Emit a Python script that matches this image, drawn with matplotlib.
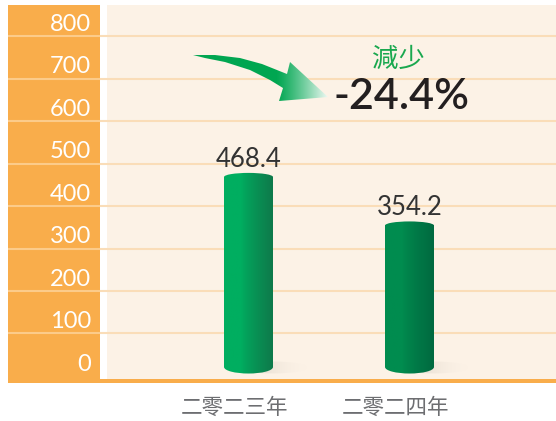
import numpy as np
import matplotlib.pyplot as plt
from matplotlib.patches import Ellipse, Polygon, Rectangle
from matplotlib.colors import to_rgb

years = ['二零二三年', '二零二四年']
values = [468.4, 354.2]
yticks = [0, 100, 200, 300, 400, 500, 600, 700, 800]
change_label = '減少'
change_value = '-24.4%'

ORANGE = '#F9AD4B'
CREAM = '#FCF2E6'
GRID = '#FADDB8'
GRID_ON_ORANGE = '#FCCB8A'
bar_colors = [('#00AE60', '#0E7A4B'), ('#008C4F', '#006A40')]

plt.rcParams['font.family'] = ['Lato', 'DejaVu Sans']

fig = plt.figure(figsize=(5.56, 4.21), dpi=100)
# axes spans pixel x 8..556, y 5..383
ax = fig.add_axes([8 / 556, (421 - 383) / 421, 548 / 556, 378 / 421])
ax.set_xlim(-1.494, 1.910)
ax.set_ylim(-16.5, 873)
ax.axis('off')


def px2data(px, py):
    return (px - 248.5) / 161, (376 - py) / 0.425


def hgrad(ax, x0, x1, y0, y1, c0, c1, clip, z, alpha=None, t=None):
    n = 64
    a = np.array(to_rgb(c0))
    b = np.array(to_rgb(c1))
    if t is None:
        t = np.linspace(0, 1, n)
    img = a + (b - a) * t[None, :, None]
    if alpha is not None:
        img = np.concatenate([img, alpha[None, :, None]], axis=2)
    im = ax.imshow(img, extent=(x0, x1, y0, y1), aspect='auto', zorder=z,
                   interpolation='bilinear')
    im.set_clip_path(clip)
    return im


# panels
ax.axvspan(-1.494, -0.922, color=ORANGE, lw=0, zorder=0)
ax.axvspan(-0.922, -0.879, color='white', lw=0, zorder=0)
ax.axvspan(-0.879, 1.910, color=CREAM, lw=0, zorder=0)
ax.axhspan(-16.5, -7, color=ORANGE, lw=0, zorder=6)

ax.hlines(yticks[1:], -1.494, -0.922, colors=GRID_ON_ORANGE, lw=1.5, zorder=1)
ax.hlines(yticks[1:], -0.922, 1.910, colors=GRID, lw=1.5, zorder=1)
for t in yticks:
    ax.annotate(str(t), (-0.978, t), xytext=(0, 1), textcoords='offset points',
                ha='right', va='bottom', color='white', fontsize=17)

# cylinder bars
x = np.arange(len(values))
w = 0.304
cap = 19
base = 21
bars = ax.bar(x, [v - base for v in values], bottom=base, width=w, alpha=0)
for i, bar in enumerate(bars):
    x0 = bar.get_x()
    x1 = x0 + w
    v = values[i]
    c0, c1 = bar_colors[i]
    body = Rectangle((x0, base), w, v - base, transform=ax.transData)
    bottom = Ellipse((x[i], base), w, cap * 1.6, transform=ax.transData)
    top = Ellipse((x[i], v), w, cap, transform=ax.transData)
    ramp = np.clip((np.linspace(0, 1, 64) - 0.35) / 0.65, 0, 1) ** 0.8
    for clip in (body, bottom, top):
        hgrad(ax, x0, x1, 0, v + cap, c0, c1, clip, 3, t=ramp)
    # soft shadow at the foot
    sx0, sx1 = x[i], x[i] + 60 / 161
    sh = Ellipse((x[i] + 25 / 161, 20), 70 / 161, 28, transform=ax.transData)
    alpha = np.linspace(0.55, 0.0, 64) ** 1.3
    hgrad(ax, sx0, sx1, 0, 40, '#BEB4A8', '#E8E0D6', sh, 2, alpha=alpha)
    ax.annotate(f'{v:.1f}', (x[i], v + cap / 2), xytext=(0, 1),
                textcoords='offset points', ha='center', va='bottom',
                color='#333333', fontsize=18.5)

# category labels
for i, lab in enumerate(years):
    ax.text(x[i] - 0.09, -16.5 - 33, lab, ha='center', va='top',
            fontsize=15.5, color='#6D6E71',
            family=['Noto Sans CJK TC', 'DejaVu Sans'], fontweight='light')

# arrow
pts = [(193, 55), (215, 55), (240, 58), (262, 64), (287, 74), (290, 62),
       (328, 97), (279, 101), (283, 88), (270, 80), (250, 70), (225, 62),
       (205, 58)]
arrow = Polygon([px2data(*p) for p in pts], closed=True, transform=ax.transData)
gx0, gy1 = px2data(193, 50)
gx1, gy0 = px2data(332, 105)
fade = np.clip((np.linspace(0, 1, 64) - 0.6) / 0.4, 0, 1) ** 1.2
hgrad(ax, gx0, gx1, gy0, gy1, '#00A651', '#FFFFFF', arrow, 4, t=fade)

ax.text(px2data(398, 0)[0], px2data(0, 59)[1], change_label, ha='center',
        va='center', fontsize=19, color='#1AA84F',
        family=['Noto Sans CJK TC', 'DejaVu Sans'])
ax.text(px2data(401, 0)[0], px2data(0, 97)[1], change_value, ha='center',
        va='center', fontsize=31, color='#231F20', fontweight='semibold')

fig.savefig('out.png', dpi=100, facecolor='white')
